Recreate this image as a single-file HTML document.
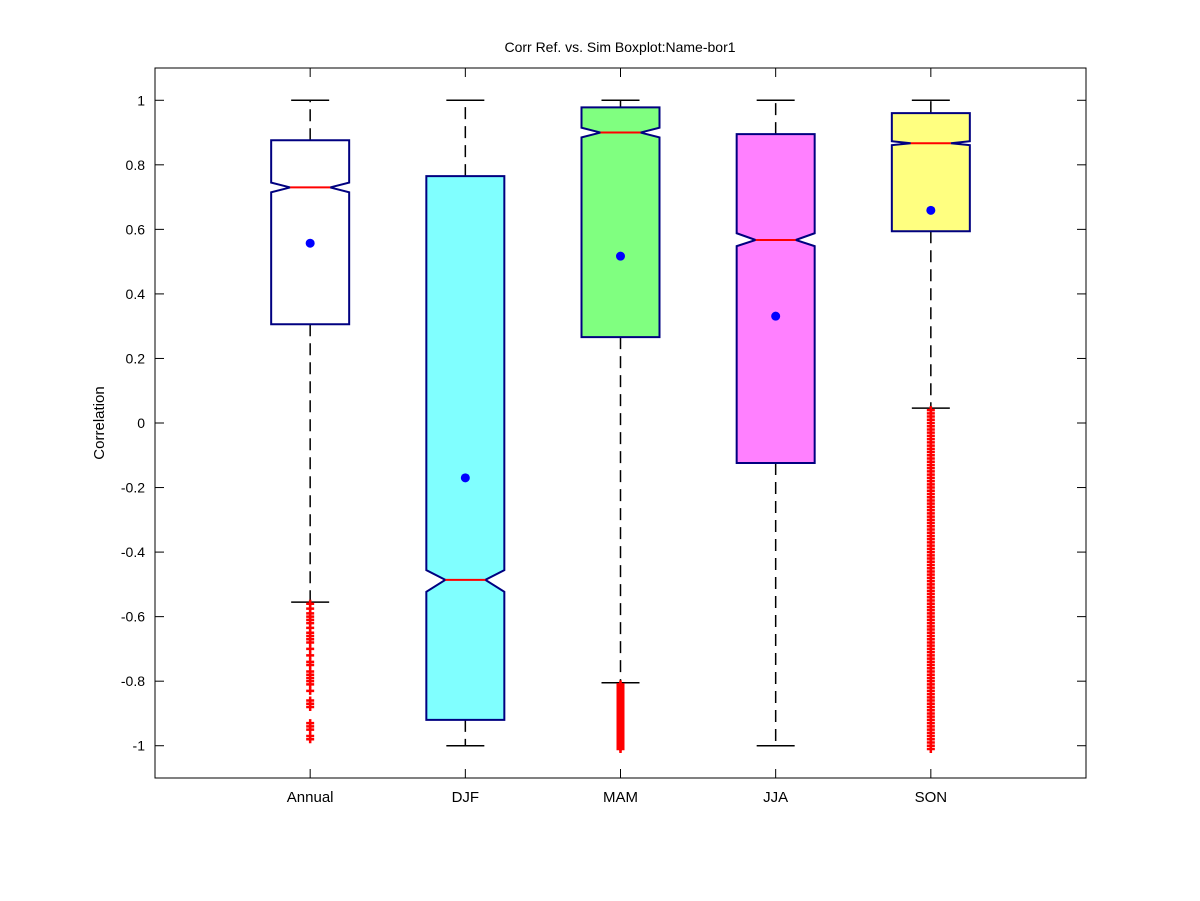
<!DOCTYPE html>
<html><head><meta charset="utf-8"><style>
html,body{margin:0;padding:0;background:#fff;}
svg{display:block;font-family:"Liberation Sans",sans-serif;}
</style></head><body>
<svg id="chart" width="1200" height="901" viewBox="0 0 1200 901">
<rect x="0" y="0" width="1200" height="901" fill="#fff"/>
<text x="620" y="52" font-size="14" text-anchor="middle">Corr Ref. vs. Sim Boxplot:Name-bor1</text>
<text transform="translate(104,423) rotate(-90)" font-size="15" text-anchor="middle">Correlation</text>
<g id="plot"></g>
</svg>
<script>
const categories=["Annual","DJF","MAM","JJA","SON"];
const q1=[0.306,-0.92,0.266,-0.124,0.594];
const q3=[0.876,0.765,0.978,0.895,0.96];
const medians=[0.73,-0.486,0.90,0.567,0.867];
const notchLo=[0.715,-0.523,0.885,0.548,0.861];
const notchHi=[0.745,-0.456,0.915,0.588,0.873];
const means=[0.557,-0.17,0.517,0.331,0.659];
const whiskerLo=[-0.555,-1.0,-0.805,-1.0,0.046];
const whiskerHi=[1.0,1.0,1.0,1.0,1.0];
const fills=["#ffffff","#80ffff","#80ff80","#ff80ff","#ffff80"];
const outAnnual=[-0.56,-0.575,-0.59,-0.6,-0.61,-0.62,-0.635,-0.65,-0.66,-0.67,-0.68,-0.7,-0.72,-0.74,-0.75,-0.77,-0.78,-0.79,-0.8,-0.81,-0.83,-0.86,-0.87,-0.88,-0.93,-0.94,-0.95,-0.97,-0.98];
const outDJF=[];
const outMAM=[-0.81,-0.815,-0.82,-0.825,-0.83,-0.835,-0.84,-0.845,-0.85,-0.855,-0.86,-0.865,-0.87,-0.875,-0.88,-0.885,-0.89,-0.895,-0.9,-0.905,-0.91,-0.915,-0.92,-0.925,-0.93,-0.935,-0.94,-0.945,-0.95,-0.955,-0.96,-0.965,-0.97,-0.975,-0.98,-0.985,-0.99,-0.995,-1.0,-1.005,-1.01];
const outJJA=[];
const outSON=[0.04,0.03,0.02,0.01,0.0,-0.01,-0.02,-0.03,-0.04,-0.05,-0.06,-0.07,-0.08,-0.09,-0.1,-0.11,-0.12,-0.13,-0.14,-0.15,-0.16,-0.17,-0.18,-0.19,-0.2,-0.21,-0.22,-0.23,-0.24,-0.25,-0.26,-0.27,-0.28,-0.29,-0.3,-0.31,-0.32,-0.33,-0.34,-0.35,-0.36,-0.37,-0.38,-0.39,-0.4,-0.41,-0.42,-0.43,-0.44,-0.45,-0.46,-0.47,-0.48,-0.49,-0.5,-0.51,-0.52,-0.53,-0.54,-0.55,-0.56,-0.57,-0.58,-0.59,-0.6,-0.61,-0.62,-0.63,-0.64,-0.65,-0.66,-0.67,-0.68,-0.69,-0.7,-0.71,-0.72,-0.73,-0.74,-0.75,-0.76,-0.77,-0.78,-0.79,-0.8,-0.81,-0.82,-0.83,-0.84,-0.85,-0.86,-0.87,-0.88,-0.89,-0.9,-0.91,-0.92,-0.93,-0.94,-0.95,-0.96,-0.97,-0.98,-0.99,-1.0,-1.01];
const outliers=[outAnnual,outDJF,outMAM,outJJA,outSON];
const yTicks=[-1,-0.8,-0.6,-0.4,-0.2,0,0.2,0.4,0.6,0.8,1];
const yTickLabels=["-1","-0.8","-0.6","-0.4","-0.2","0","0.2","0.4","0.6","0.8","1"];

const L=155,R=1086,T=68,B=778;
const xS=i=>L+(i+1)*(R-L)/6;
const yS=v=>T+(1.1-v)/2.2*(B-T);
const NS="http://www.w3.org/2000/svg";
const g=document.getElementById('plot');
function mk(tag,attrs,parent){const e=document.createElementNS(NS,tag);for(const k in attrs)e.setAttribute(k,attrs[k]);(parent||g).appendChild(e);return e;}

const frame=mk('rect',{x:L,y:T,width:R-L,height:B-T,fill:'none',stroke:'#000','stroke-width':1});



yTicks.forEach((v,i)=>{
  const y=yS(v);
  const t1=mk('line',{x1:L,x2:L+9,y1:y,y2:y,stroke:'#000'});
  
  
  const t2=mk('line',{x1:R-9,x2:R,y1:y,y2:y,stroke:'#000'});
  
  
  const lab=mk('text',{x:L-10,y:y+5,'font-size':14,'text-anchor':'end'});
  lab.textContent=yTickLabels[i];
  
  
});

categories.forEach((c,i)=>{
  const x=xS(i);
  const tb=mk('line',{x1:x,x2:x,y1:B,y2:B-9,stroke:'#000'});
  
  
  const tt=mk('line',{x1:x,x2:x,y1:T,y2:T+9,stroke:'#000'});
  
  
  const lab=mk('text',{x:x,y:B+24,'font-size':15,'text-anchor':'middle'});
  lab.textContent=c;
  
  

  const hw=39,nw=20,cw=19;
  const grp=mk('g',{});
  
  
  const w1=mk('line',{x1:x,x2:x,y1:yS(q3[i]),y2:yS(whiskerHi[i]),stroke:'#000','stroke-width':1.5,'stroke-dasharray':'12,7'},grp);
  
  
  const w2=mk('line',{x1:x,x2:x,y1:yS(q1[i]),y2:yS(whiskerLo[i]),stroke:'#000','stroke-width':1.5,'stroke-dasharray':'12,7'},grp);
  
  
  const c1=mk('line',{x1:x-cw,x2:x+cw,y1:yS(whiskerHi[i]),y2:yS(whiskerHi[i]),stroke:'#000','stroke-width':1.5},grp);
  
  
  const c2=mk('line',{x1:x-cw,x2:x+cw,y1:yS(whiskerLo[i]),y2:yS(whiskerLo[i]),stroke:'#000','stroke-width':1.5},grp);
  
  
  const yq3=yS(q3[i]),yq1=yS(q1[i]),ym=yS(medians[i]),yh=yS(notchHi[i]),yl=yS(notchLo[i]);
  const pts=[[x-hw,yq3],[x+hw,yq3],[x+hw,yh],[x+nw,ym],[x+hw,yl],[x+hw,yq1],[x-hw,yq1],[x-hw,yl],[x-nw,ym],[x-hw,yh]];
  const box=mk('polygon',{points:pts.map(p=>p.join(',')).join(' '),fill:fills[i],stroke:'#000080','stroke-width':2},grp);
  
  
  const med=mk('line',{x1:x-nw,x2:x+nw,y1:ym,y2:ym,stroke:'#ff0000','stroke-width':2},grp);
  
  
  const mn=mk('circle',{cx:x,cy:yS(means[i]),r:4.5,fill:'#0000ff'},grp);
  
  
  outliers[i].forEach(v=>{
    const y=yS(v);
    const o=mk('path',{d:`M${x-4},${y}H${x+4}M${x},${y-4}V${y+4}`,stroke:'#ff0000','stroke-width':2.5},grp);
    
    
  });
});
</script>
</body></html>
